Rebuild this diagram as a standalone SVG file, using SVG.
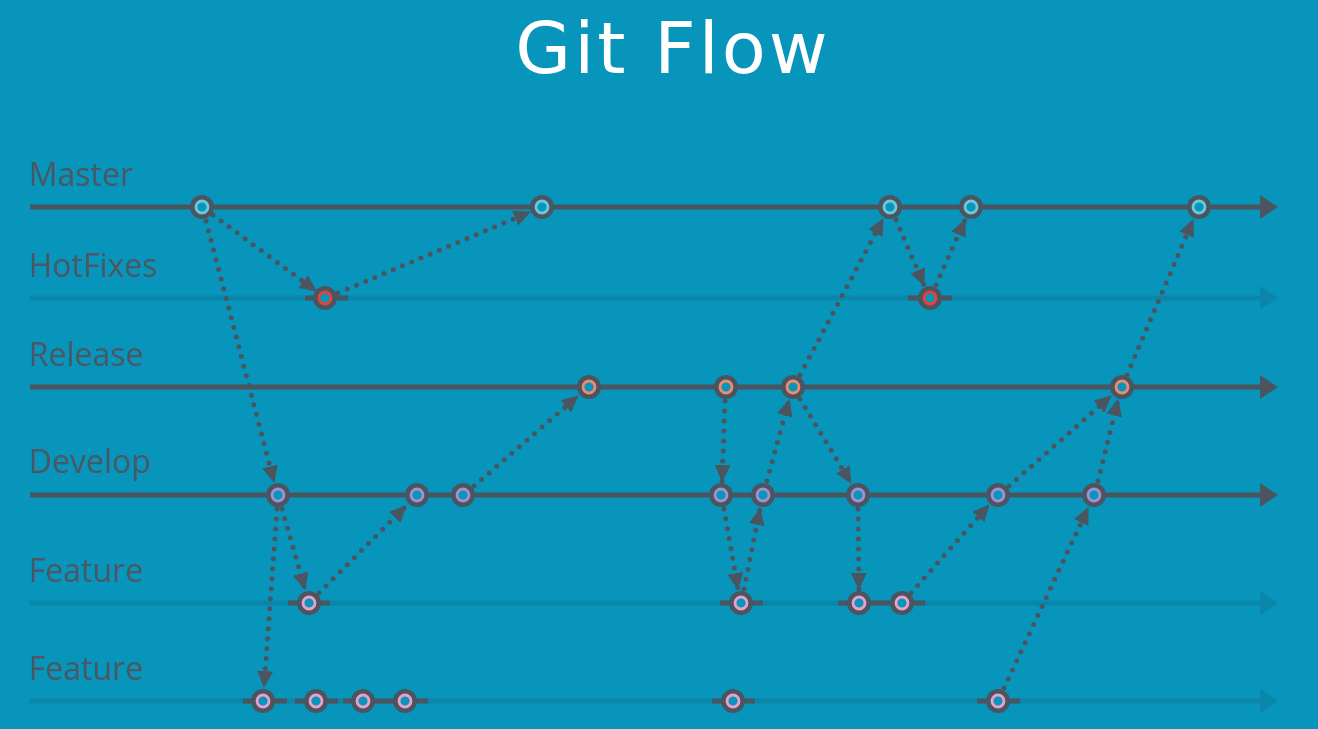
<svg xmlns="http://www.w3.org/2000/svg" width="1318" height="729" viewBox="0 0 1318 729">
<style>
.bg{fill:#0895BB}
.title{font-family:"DejaVu Sans","Open Sans",sans-serif;font-size:72px;fill:#ffffff;letter-spacing:3px}
.lbl{font-family:"Open Sans","Liberation Sans",sans-serif;font-size:32px;fill:#4A5966}
.main{stroke:#4A5560;stroke-width:5;fill:none}
.faint{stroke:#0A86AA;stroke-width:5;fill:none}
.seg{stroke:#4A5560;stroke-width:5;fill:none}
.dot{stroke:#4A5560;stroke-width:5;stroke-linecap:round;stroke-dasharray:0 10;fill:none;marker-end:url(#ah)}
.nd{fill:#4A5560}
.ring{stroke-width:2.8;fill:#0895BB}
.m{stroke:#6CC8DC}.h{stroke:#E8413C}.r{stroke:#F28A6C}.d{stroke:#A48ED0}.f{stroke:#EBA0CC}
</style>
<defs>
<marker id="ah" markerUnits="userSpaceOnUse" markerWidth="18" markerHeight="16" refX="16" refY="8" orient="auto" viewBox="0 0 18 16">
<path d="M0,0 L17,8 L0,16 z" fill="#4A5560"/>
</marker>
</defs>
<rect class="bg" x="0" y="0" width="1318" height="729"/>
<text class="title" x="673" y="73" text-anchor="middle">Git Flow</text>
<g id="lanes">
<text class="lbl" x="29" y="186">Master</text>
<text class="lbl" x="29" y="277">HotFixes</text>
<text class="lbl" x="29" y="366">Release</text>
<text class="lbl" x="29" y="473">Develop</text>
<text class="lbl" x="29" y="582">Feature</text>
<text class="lbl" x="29" y="680">Feature</text>
<line class="main" x1="30" y1="207" x2="1262" y2="207"/><path d="M1260,195 L1278,207 L1260,219 z" fill="#4A5560"/>
<line class="faint" x1="30" y1="298" x2="1262" y2="298"/><path d="M1260,286 L1278,298 L1260,310 z" fill="#0A86AA"/>
<line class="main" x1="30" y1="387" x2="1262" y2="387"/><path d="M1260,375 L1278,387 L1260,399 z" fill="#4A5560"/>
<line class="main" x1="30" y1="495" x2="1262" y2="495"/><path d="M1260,483 L1278,495 L1260,507 z" fill="#4A5560"/>
<line class="faint" x1="30" y1="603" x2="1262" y2="603"/><path d="M1260,591 L1278,603 L1260,615 z" fill="#0A86AA"/>
<line class="faint" x1="30" y1="701" x2="1262" y2="701"/><path d="M1260,689 L1278,701 L1260,713 z" fill="#0A86AA"/>
<line class="seg" x1="305" y1="298" x2="348" y2="298"/>
<line class="seg" x1="908" y1="298" x2="952" y2="298"/>
<line class="seg" x1="288" y1="603" x2="330" y2="603"/>
<line class="seg" x1="720" y1="603" x2="763" y2="603"/>
<line class="seg" x1="838" y1="603" x2="925" y2="603"/>
<line class="seg" x1="243" y1="701" x2="287" y2="701"/>
<line class="seg" x1="295" y1="701" x2="338" y2="701"/>
<line class="seg" x1="343" y1="701" x2="428" y2="701"/>
<line class="seg" x1="712" y1="701" x2="755" y2="701"/>
<line class="seg" x1="977" y1="701" x2="1020" y2="701"/>
</g>
<g id="connectors">
<line class="dot" x1="213" y1="215" x2="316" y2="291"/>
<line class="dot" x1="338" y1="293" x2="530" y2="212"/>
<line class="dot" x1="206" y1="221" x2="274" y2="482"/>
<line class="dot" x1="277" y1="509" x2="264" y2="687"/>
<line class="dot" x1="282" y1="509" x2="305" y2="589"/>
<line class="dot" x1="319" y1="593" x2="406" y2="506"/>
<line class="dot" x1="474" y1="486" x2="578" y2="396"/>
<line class="dot" x1="725" y1="401" x2="722" y2="481"/>
<line class="dot" x1="724" y1="509" x2="738" y2="589"/>
<line class="dot" x1="744" y1="589" x2="760" y2="509"/>
<line class="dot" x1="767" y1="481" x2="789" y2="400"/>
<line class="dot" x1="800" y1="375" x2="883" y2="219"/>
<line class="dot" x1="800" y1="399" x2="851" y2="483"/>
<line class="dot" x1="858" y1="509" x2="859" y2="589"/>
<line class="dot" x1="911" y1="593" x2="989" y2="505"/>
<line class="dot" x1="896" y1="220" x2="924" y2="285"/>
<line class="dot" x1="936" y1="285" x2="965" y2="220"/>
<line class="dot" x1="1009" y1="486" x2="1111" y2="396"/>
<line class="dot" x1="1004" y1="688" x2="1088" y2="508"/>
<line class="dot" x1="1098" y1="481" x2="1118" y2="400"/>
<line class="dot" x1="1127" y1="375" x2="1193" y2="220"/>
</g>
<g id="master-nodes">
<g id="m1"><circle cx="202" cy="207" r="12" class="nd"/><circle cx="202" cy="207" r="6" class="ring m"/></g>
<g id="m2"><circle cx="542" cy="207" r="12" class="nd"/><circle cx="542" cy="207" r="6" class="ring m"/></g>
<g id="m3"><circle cx="890" cy="207" r="12" class="nd"/><circle cx="890" cy="207" r="6" class="ring m"/></g>
<g id="m4"><circle cx="971" cy="207" r="12" class="nd"/><circle cx="971" cy="207" r="6" class="ring m"/></g>
<g id="m5"><circle cx="1199" cy="207" r="12" class="nd"/><circle cx="1199" cy="207" r="6" class="ring m"/></g>
</g>
<g id="hotfix-nodes">
<g id="h1"><circle cx="325" cy="298" r="12" class="nd"/><circle cx="325" cy="298" r="6" class="ring h"/></g>
<g id="h2"><circle cx="930" cy="298" r="12" class="nd"/><circle cx="930" cy="298" r="6" class="ring h"/></g>
</g>
<g id="release-nodes">
<g id="r1"><circle cx="589" cy="387" r="12" class="nd"/><circle cx="589" cy="387" r="6" class="ring r"/></g>
<g id="r2"><circle cx="726" cy="387" r="12" class="nd"/><circle cx="726" cy="387" r="6" class="ring r"/></g>
<g id="r3"><circle cx="793" cy="387" r="12" class="nd"/><circle cx="793" cy="387" r="6" class="ring r"/></g>
<g id="r4"><circle cx="1122" cy="387" r="12" class="nd"/><circle cx="1122" cy="387" r="6" class="ring r"/></g>
</g>
<g id="develop-nodes">
<g id="d1"><circle cx="278" cy="495" r="12" class="nd"/><circle cx="278" cy="495" r="6" class="ring d"/></g>
<g id="d2"><circle cx="417" cy="495" r="12" class="nd"/><circle cx="417" cy="495" r="6" class="ring d"/></g>
<g id="d3"><circle cx="463" cy="495" r="12" class="nd"/><circle cx="463" cy="495" r="6" class="ring d"/></g>
<g id="d4"><circle cx="721" cy="495" r="12" class="nd"/><circle cx="721" cy="495" r="6" class="ring d"/></g>
<g id="d5"><circle cx="763" cy="495" r="12" class="nd"/><circle cx="763" cy="495" r="6" class="ring d"/></g>
<g id="d6"><circle cx="858" cy="495" r="12" class="nd"/><circle cx="858" cy="495" r="6" class="ring d"/></g>
<g id="d7"><circle cx="998" cy="495" r="12" class="nd"/><circle cx="998" cy="495" r="6" class="ring d"/></g>
<g id="d8"><circle cx="1094" cy="495" r="12" class="nd"/><circle cx="1094" cy="495" r="6" class="ring d"/></g>
</g>
<g id="feature1-nodes">
<g id="f1"><circle cx="309" cy="603" r="12" class="nd"/><circle cx="309" cy="603" r="6" class="ring f"/></g>
<g id="f2"><circle cx="741" cy="603" r="12" class="nd"/><circle cx="741" cy="603" r="6" class="ring f"/></g>
<g id="f3"><circle cx="859" cy="603" r="12" class="nd"/><circle cx="859" cy="603" r="6" class="ring f"/></g>
<g id="f4"><circle cx="902" cy="603" r="12" class="nd"/><circle cx="902" cy="603" r="6" class="ring f"/></g>
</g>
<g id="feature2-nodes">
<g id="g1"><circle cx="263" cy="701" r="12" class="nd"/><circle cx="263" cy="701" r="6" class="ring f"/></g>
<g id="g2"><circle cx="316" cy="701" r="12" class="nd"/><circle cx="316" cy="701" r="6" class="ring f"/></g>
<g id="g3"><circle cx="363" cy="701" r="12" class="nd"/><circle cx="363" cy="701" r="6" class="ring f"/></g>
<g id="g4"><circle cx="405" cy="701" r="12" class="nd"/><circle cx="405" cy="701" r="6" class="ring f"/></g>
<g id="g5"><circle cx="733" cy="701" r="12" class="nd"/><circle cx="733" cy="701" r="6" class="ring f"/></g>
<g id="g6"><circle cx="998" cy="701" r="12" class="nd"/><circle cx="998" cy="701" r="6" class="ring f"/></g>
</g>
</svg>
